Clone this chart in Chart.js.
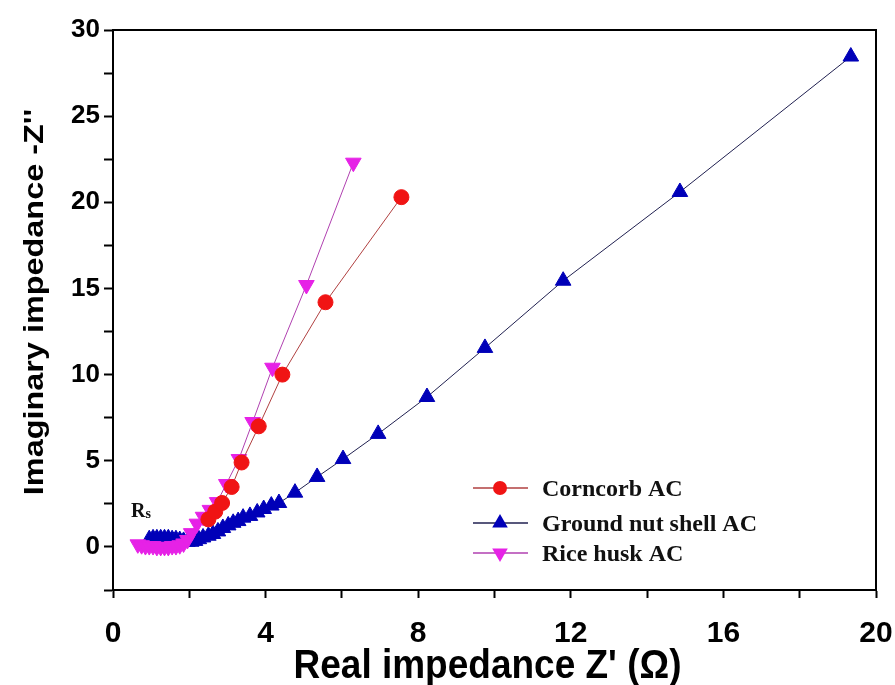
<!DOCTYPE html>
<html>
<head>
<meta charset="utf-8">
<script src="https://cdn.jsdelivr.net/npm/chart.js@4.4.1/dist/chart.umd.min.js"></script>
<style>
  body { margin: 0; background: #fff; }
  #wrap { width: 895px; height: 685px; }
</style>
</head>
<body>
<div id="wrap"><canvas id="nyquist" width="895" height="685"></canvas></div>
<script>
// Nyquist plot, values: Z' (ohm) vs -Z''
const seriesNames = ['Corncorb AC', 'Ground nut shell AC', 'Rice husk AC'];

const corncorbX = [2.5, 2.68, 2.86, 3.11, 3.37, 3.82, 4.44, 5.57, 7.56];
const corncorbY = [1.6, 2.05, 2.55, 3.48, 4.9, 7.0, 10.0, 14.2, 20.3];

const groundnutX = [0.95, 1.05, 1.15, 1.25, 1.35, 1.45, 1.55, 1.65, 1.75, 1.85, 1.95, 2.05, 2.15, 2.25, 2.36, 2.5, 2.62, 2.75, 2.88, 3.02, 3.15, 3.28, 3.41, 3.59, 3.78, 3.95, 4.15, 4.35, 4.77, 5.35, 6.03, 6.95, 8.23, 9.75, 11.8, 14.86, 19.34];
const groundnutY = [0.45, 0.5, 0.5, 0.5, 0.5, 0.5, 0.45, 0.45, 0.4, 0.35, 0.3, 0.3, 0.35, 0.45, 0.55, 0.65, 0.75, 0.9, 1.1, 1.25, 1.4, 1.5, 1.7, 1.8, 2.0, 2.2, 2.4, 2.55, 3.15, 4.06, 5.1, 6.56, 8.7, 11.55, 15.45, 20.6, 28.46];

const riceHuskX = [0.65, 0.75, 0.85, 0.95, 1.05, 1.15, 1.25, 1.35, 1.45, 1.55, 1.65, 1.75, 1.85, 1.95, 2.05, 2.2, 2.36, 2.54, 2.73, 2.97, 3.3, 3.66, 4.18, 5.07, 6.3];
const riceHuskY = [0.15, 0.1, 0.05, 0.05, 0.05, 0.0, 0.0, 0.0, 0.0, 0.05, 0.05, 0.1, 0.2, 0.4, 0.8, 1.35, 1.75, 2.15, 2.6, 3.65, 5.1, 7.25, 10.4, 15.2, 22.3];

const xTickLabels = [0, 4, 8, 12, 16, 20];
const yTickLabels = [0, 5, 10, 15, 20, 25, 30];

const xTitle = "Real impedance Z' (\u03A9)";
const yTitle = "Imaginary impedance -Z''";

const colors = {
  red: '#f01414',
  redLine: '#b04040',
  blue: '#0000b8',
  blueLine: '#202050',
  pink: '#e622e6',
  pinkLine: '#b040b0'
};

function toPoints(xs, ys) {
  return xs.map((x, i) => ({ x: x, y: ys[i] }));
}

// little marker helper for the hand drawn legend
function drawMarker(ctx, style, x, y, r, color) {
  ctx.fillStyle = color;
  ctx.beginPath();
  if (style === 'circle') {
    ctx.arc(x, y, r, 0, Math.PI * 2);
  } else {
    const dir = style === 'down' ? -1 : 1;
    ctx.moveTo(x, y - dir * r);
    ctx.lineTo(x + r * 0.866, y + dir * r * 0.5);
    ctx.lineTo(x - r * 0.866, y + dir * r * 0.5);
    ctx.closePath();
  }
  ctx.fill();
}

const decorations = {
  id: 'decorations',
  afterDraw(chart) {
    const ctx = chart.ctx;
    const a = chart.chartArea;
    ctx.save();

    // box frame
    ctx.strokeStyle = '#000';
    ctx.lineWidth = 2;
    ctx.strokeRect(a.left, a.top, a.right - a.left, a.bottom - a.top);

    // axis titles
    ctx.fillStyle = '#000';
    ctx.textAlign = 'center';
    ctx.textBaseline = 'alphabetic';
    ctx.save();
    ctx.translate((a.left + a.right) / 2 - 7, 678);
    ctx.scale(1, 1.1);
    ctx.font = 'bold 37px "Liberation Sans", Arial, sans-serif';
    ctx.fillText(xTitle, 0, 0);
    ctx.restore();

    ctx.save();
    ctx.translate(43, 302);
    ctx.rotate(-Math.PI / 2);
    ctx.scale(1.2, 1);
    ctx.font = 'bold 27px "Liberation Sans", Arial, sans-serif';
    ctx.fillText(yTitle, 0, 0);
    ctx.restore();

    // legend inside the plot
    const rows = [
      { y: 488, line: colors.redLine, fill: colors.red, style: 'circle', r: 7 },
      { y: 523, line: colors.blueLine, fill: colors.blue, style: 'up', r: 9 },
      { y: 553, line: colors.pinkLine, fill: colors.pink, style: 'down', r: 9 }
    ];
    ctx.textAlign = 'left';
    ctx.font = 'bold 24px "Liberation Serif", "Times New Roman", serif';
    rows.forEach((row, i) => {
      ctx.strokeStyle = row.line;
      ctx.lineWidth = 1.5;
      ctx.beginPath();
      ctx.moveTo(473, row.y);
      ctx.lineTo(528, row.y);
      ctx.stroke();
      drawMarker(ctx, row.style, 500, row.y, row.r, row.fill);
      ctx.fillStyle = '#111';
      ctx.fillText(seriesNames[i], 542, row.y + 8);
    });

    // Rs annotation
    ctx.fillStyle = '#111';
    ctx.font = 'bold 20px "Liberation Serif", serif';
    ctx.fillText('R', 131, 517);
    const rw = ctx.measureText('R').width;
    ctx.font = 'bold 14px "Liberation Serif", serif';
    ctx.fillText('s', 131 + rw, 518);

    ctx.restore();
  }
};

const ctx = document.getElementById('nyquist').getContext('2d');

const chart = new Chart(ctx, {
  type: 'scatter',
  data: {
    datasets: [
      {
        label: seriesNames[0],
        data: toPoints(corncorbX, corncorbY),
        showLine: true,
        borderColor: colors.redLine,
        borderWidth: 1,
        pointStyle: 'circle',
        pointRadius: 7.5,
        pointBackgroundColor: colors.red,
        pointBorderColor: colors.red,
        pointBorderWidth: 1
      },
      {
        label: seriesNames[2],
        data: toPoints(riceHuskX, riceHuskY),
        showLine: true,
        borderColor: colors.pinkLine,
        borderWidth: 1,
        pointStyle: 'triangle',
        pointRotation: 180,
        pointRadius: 9,
        pointBackgroundColor: colors.pink,
        pointBorderColor: colors.pink,
        pointBorderWidth: 1
      },
      {
        label: seriesNames[1],
        data: toPoints(groundnutX, groundnutY),
        showLine: true,
        borderColor: colors.blueLine,
        borderWidth: 1,
        pointStyle: 'triangle',
        pointRadius: 9,
        pointBackgroundColor: colors.blue,
        pointBorderColor: colors.blue,
        pointBorderWidth: 1
      }
    ]
  },
  options: {
    responsive: false,
    animation: false,
    events: [],
    layout: { padding: { left: 0, right: 19, top: 30, bottom: 0 } },
    plugins: {
      legend: { display: false },
      tooltip: { enabled: false }
    },
    scales: {
      x: {
        type: 'linear',
        min: 0,
        max: 20,
        afterFit: function(scale) {
          scale.height = 95;
          scale.paddingLeft = 0;
          scale.paddingRight = 0;
        },
        border: { display: true, color: '#000', width: 2 },
        grid: { drawOnChartArea: false, drawTicks: true, tickLength: 8, tickColor: '#000', tickWidth: 2 },
        ticks: {
          stepSize: 2,
          autoSkip: false,
          maxRotation: 0,
          padding: 18,
          color: '#000',
          font: { family: '"Liberation Sans", Arial, sans-serif', size: 30, weight: 'bold' },
          callback: function(value) { return xTickLabels.includes(value) ? value : ''; }
        }
      },
      y: {
        type: 'linear',
        min: -2.5,
        max: 30,
        afterFit: function(scale) {
          scale.width = 113;
          scale.paddingTop = 0;
          scale.paddingBottom = 0;
        },
        border: { display: true, color: '#000', width: 2 },
        grid: { drawOnChartArea: false, drawTicks: true, tickLength: 9, tickColor: '#000', tickWidth: 2 },
        ticks: {
          stepSize: 2.5,
          autoSkip: false,
          padding: 4,
          color: '#000',
          font: { family: '"Liberation Sans", Arial, sans-serif', size: 26, weight: 'bold' },
          callback: function(value) { return yTickLabels.includes(value) ? value : ''; }
        }
      }
    }
  },
  plugins: [decorations]
});
</script>
</body>
</html>
